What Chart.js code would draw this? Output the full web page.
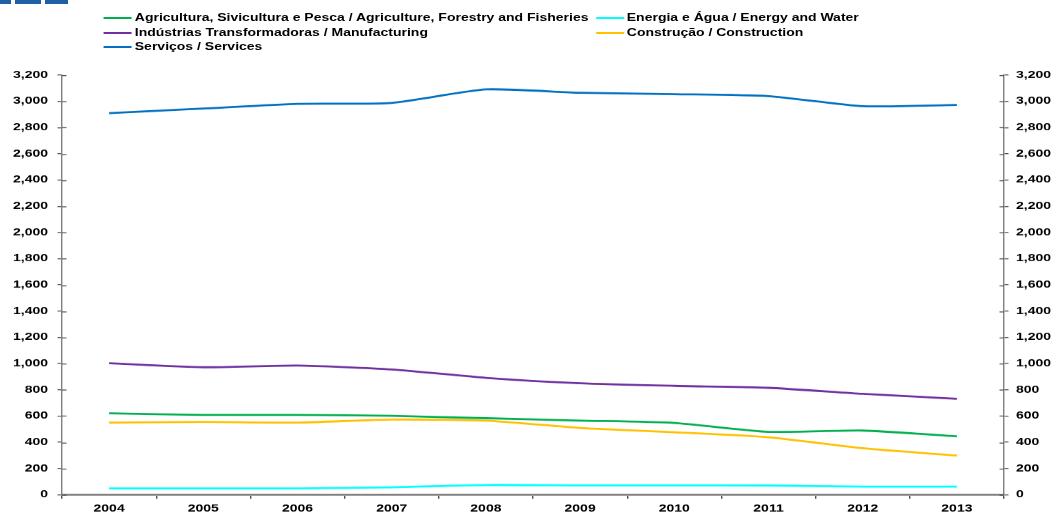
<!DOCTYPE html>
<html>
<head>
<meta charset="utf-8">
<script src="https://cdn.jsdelivr.net/npm/chart.js@4"></script>
<style>
  html, body { margin: 0; padding: 0; background: #fff; overflow: hidden; }
  body { width: 1058px; height: 513px; position: relative; font-family: "Liberation Sans", Arial, sans-serif; }
  /* the source picture is stretched horizontally, so draw narrow and scale */
  #stage { position: absolute; left: 0; top: 0; width: 756px; height: 513px; transform-origin: 0 0; }
  #wrap { position: absolute; left: 0; top: 0; width: 756px; height: 513px; }
  .logo { position: absolute; top: 0; height: 4px; background: #1f5fa6; }
  .leg { position: absolute; display: flex; align-items: center; font-size: 10px; font-weight: bold; color: #000; white-space: nowrap; line-height: 12px; }
  .leg i { display: inline-block; width: 20px; height: 2px; margin-right: 2px; }
</style>
</head>
<body>
<div class="logo" style="left:0;width:11px"></div>
<div class="logo" style="left:15px;width:26px"></div>
<div class="logo" style="left:45px;width:23px"></div>
<div id="stage">
  <div id="legend"></div>
  <div id="wrap"><canvas id="chart"></canvas></div>
</div>
<script>
const PAGE_W = 1058;
const STAGE_W = 756;
const SX = PAGE_W / STAGE_W;

const years = ["2004", "2005", "2006", "2007", "2008", "2009", "2010", "2011", "2012", "2013"];

const agriculture   = [621, 608, 608, 601, 583, 565, 547, 479, 489, 445];
const energy        = [48, 48, 48, 56, 74, 71, 71, 70, 61, 61];
const manufacturing = [1003, 972, 985, 955, 891, 850, 830, 815, 769, 731];
const construction  = [550, 555, 550, 573, 565, 509, 476, 438, 354, 298];
const services      = [2910, 2945, 2981, 2988, 3091, 3065, 3055, 3040, 2963, 2973];

const seriesNames = [
  "Agricultura, Sivicultura e Pesca / Agriculture, Forestry and Fisheries",
  "Energia e Água / Energy and Water",
  "Indústrias Transformadoras / Manufacturing",
  "Construção / Construction",
  "Serviços / Services"
];
const seriesColors = ["#00b050", "#00ffff", "#7030a0", "#ffc000", "#0070c0"];
const seriesData = [agriculture, energy, manufacturing, construction, services];

const yTicks = [0, 200, 400, 600, 800, 1000, 1200, 1400, 1600, 1800, 2000, 2200, 2400, 2600, 2800, 3000, 3200];

document.getElementById("stage").style.transform = "scaleX(" + SX + ")";

/* ================================
   Legend (two columns, like the source)
================================ */
function buildLegend() {
  const box = document.getElementById("legend");
  const colX = [104 / SX, 596 / SX];
  const rowY = [12, 26.5, 41];
  seriesNames.forEach((name, i) => {
    const el = document.createElement("div");
    el.className = "leg";
    el.style.left = colX[i % 2] + "px";
    el.style.top = rowY[Math.floor(i / 2)] + "px";
    el.innerHTML = '<i style="background:' + seriesColors[i] + '"></i><span>' + name + '</span>';
    box.appendChild(el);
  });
}

/* ================================
   Chart
================================ */
const FONT = { family: '"Liberation Sans", Arial, sans-serif', size: 10, weight: "bold" };
const TICK_HALF = 4.5 / SX;

// y ticks cross the axis line: Chart.js only draws the outer half
const innerTicks = {
  id: "innerTicks",
  afterDraw(chart) {
    const ctx = chart.ctx;
    ctx.save();
    ctx.strokeStyle = "#555";
    ctx.lineWidth = 1;
    ["y", "y2"].forEach(id => {
      const s = chart.scales[id];
      const x0 = id === "y" ? s.right : s.left;
      const dir = id === "y" ? 1 : -1;
      s.ticks.forEach((t, i) => {
        const py = Math.round(s.getPixelForTick(i)) + 0.5;
        ctx.beginPath();
        ctx.moveTo(x0, py);
        ctx.lineTo(x0 + dir * TICK_HALF, py);
        ctx.stroke();
      });
    });
    ctx.restore();
  }
};

function yAxis(position, width, pad) {
  return {
    type: "linear",
    position: position,
    min: 0,
    max: 3200,
    afterBuildTicks: s => { s.ticks = yTicks.map(v => ({ value: v })); },
    afterFit: s => { s.width = width; },
    border: { display: true, color: "#808080", width: 1 },
    grid: { drawOnChartArea: false, drawTicks: true, tickLength: TICK_HALF, tickColor: "#555" },
    ticks: {
      padding: pad,
      color: "#000",
      font: FONT,
      callback: v => v.toLocaleString("en-US")
    }
  };
}

function initChart() {
  const ctx = document.getElementById("chart").getContext("2d");
  new Chart(ctx, {
    type: "line",
    data: {
      labels: years,
      datasets: seriesData.map((d, i) => ({
        label: seriesNames[i],
        data: d,
        borderColor: seriesColors[i],
        backgroundColor: seriesColors[i],
        borderWidth: 2,
        pointRadius: 0,
        tension: 0.2,
        fill: false
      }))
    },
    options: {
      responsive: true,
      maintainAspectRatio: false,
      devicePixelRatio: SX,
      animation: false,
      layout: { padding: { top: 75, left: 0, right: 0, bottom: 0 } },
      plugins: { legend: { display: false }, tooltip: { enabled: false } },
      scales: {
        x: {
          offset: true,
          afterFit: s => { s.height = 19; },
          border: { display: true, color: "#808080", width: 2 },
          grid: { offset: true, drawOnChartArea: false, tickLength: 4, tickColor: "#555" },
          ticks: { padding: 4, color: "#000", font: FONT, maxRotation: 0 }
        },
        y: yAxis("left", 62 / SX, 6.8),
        y2: yAxis("right", STAGE_W - 1004 / SX, 5.4)
      }
    },
    plugins: [innerTicks]
  });
}

buildLegend();
initChart();
</script>
</body>
</html>
